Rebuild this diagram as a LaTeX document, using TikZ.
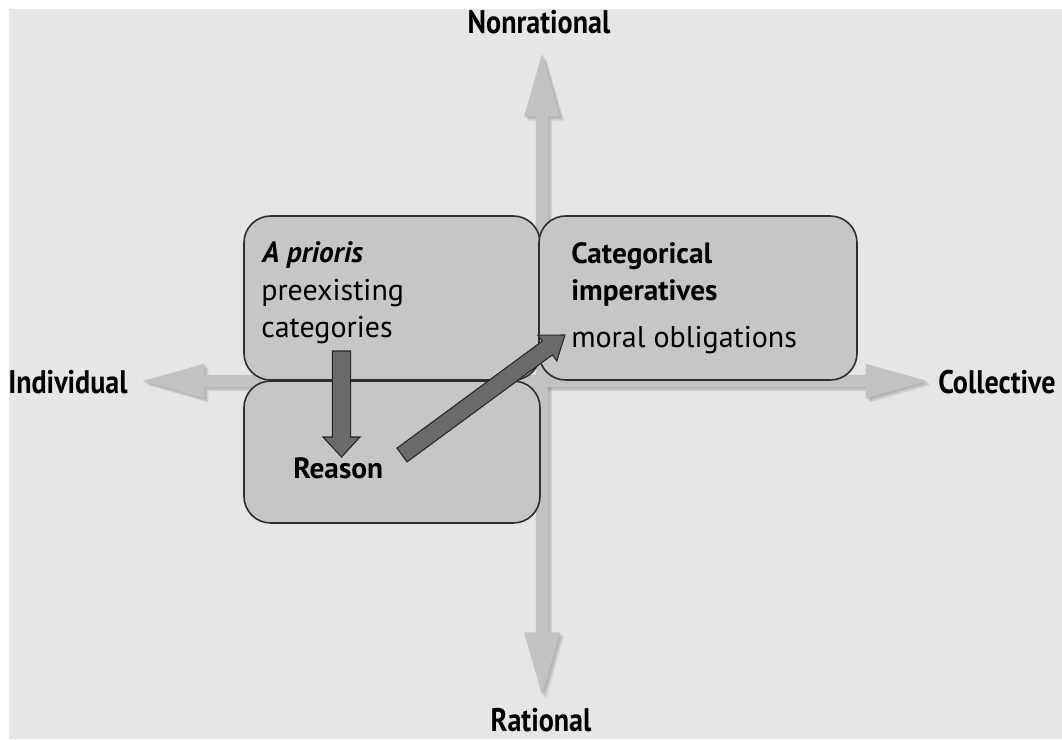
\documentclass[tikz,border=0pt]{standalone}
\usepackage{fontspec}
\setmainfont{PT Sans}
\newfontfamily\condfont{PT Sans}[FakeStretch=0.86]
\usetikzlibrary{calc,fit}

\definecolor{paper}{HTML}{E6E6E6}
\definecolor{axisgray}{HTML}{C2C2C2}
\definecolor{axisshade}{HTML}{808080}
\definecolor{boxgray}{HTML}{C6C6C6}
\definecolor{boxline}{HTML}{2E2E2E}
\definecolor{flowgray}{HTML}{6A6A6A}

% single-headed block arrow: tail, tip, half shaft, half head, head length, style
\newcommand\blockarrow[6]{%
  \path ($(#2)!#5!(#1)$) coordinate (ba-base);
  \draw[#6] ($(#1)!#3!90:(#2)$) -- ($(ba-base)!#3!90:(#2)$)
    -- ($(ba-base)!#4!90:(#2)$) -- (#2) -- ($(ba-base)!#4!-90:(#2)$)
    -- ($(ba-base)!#3!-90:(#2)$) -- ($(#1)!#3!-90:(#2)$) -- cycle;
}
% double-headed block arrow: end A, end B, half shaft, half head, head length, style
\newcommand\axisarrow[6]{%
  \path ($(#1)!#5!(#2)$) coordinate (aa-a) ($(#2)!#5!(#1)$) coordinate (aa-b);
  \path[#6] (#1) -- ($(aa-a)!#4!90:(#2)$) -- ($(aa-a)!#3!90:(#2)$)
    -- ($(aa-b)!#3!90:(#2)$) -- ($(aa-b)!#4!90:(#2)$) -- (#2)
    -- ($(aa-b)!#4!-90:(#2)$) -- ($(aa-b)!#3!-90:(#2)$)
    -- ($(aa-a)!#3!-90:(#2)$) -- ($(aa-a)!#4!-90:(#2)$) -- cycle;
}

\tikzset{
  axislabel/.style={font=\condfont\bfseries\fontsize{24.5}{28}\selectfont, inner sep=0},
  boxhead/.style={font=\bfseries\fontsize{22}{26}\selectfont, inner sep=0, anchor=base west},
  boxtext/.style={font=\fontsize{22.5}{26}\selectfont, inner sep=0, anchor=base west},
  quadrant/.style={draw=boxline, fill=boxgray, line width=1.2pt, rounded corners=20pt, inner sep=0pt},
  axisbody/.style={fill=axisgray},
  axisshadow/.style={fill=axisshade, opacity=0.2},
  flow/.style={fill=flowgray, draw=black!85, line width=0.8pt, line join=miter},
}

\begin{document}
\begin{tikzpicture}[x=0.75pt, y=-0.75pt]
\useasboundingbox (0,0) rectangle (1062,739);
\fill[white] (0,0) rectangle (1062,739);
\fill[paper] (9,9) rectangle (1062,739);

% axis ends
\coordinate (west) at (143,381);
\coordinate (east) at (927,381);
\coordinate (north) at (542,54);
\coordinate (south) at (542,695);

% soft shadow under the axes
\foreach \d in {1.0,2.0,3.0}{
  \begin{scope}[transform canvas={shift={(\d pt,-\d pt)}}]
    \axisarrow{west}{east}{4.6pt}{13pt}{46pt}{axisshadow}
    \axisarrow{north}{south}{4.6pt}{13.5pt}{47pt}{axisshadow}
  \end{scope}
}
\axisarrow{west}{east}{4.6pt}{13pt}{46pt}{axisbody}
\axisarrow{north}{south}{4.6pt}{13.5pt}{47pt}{axisbody}

% axis labels
\node[axislabel, anchor=base] (nonrational) at (539,33) {Nonrational};
\node[axislabel, anchor=base] (rational) at (541,731) {Rational};
\node[axislabel, anchor=base west] (individual) at (8,393) {Individual};
\node[axislabel, anchor=base west] (collective) at (938,393) {Collective};

% quadrant boxes
\node[quadrant, fit={(244,216) (540,380)}] (apriori) {};
\node[quadrant, fit={(244,381) (540,523)}] (reasonbox) {};
\node[quadrant, fit={(539,216) (857,380)}] (imperatives) {};

% box texts
\node[boxhead] (aprioritxt) at (262,262) {\itshape A prioris};
\node[boxtext] (preexisting) at (261,300) {preexisting};
\node[boxtext] (categories) at (261,337) {categories};
\node[boxhead] (reason) at (293,478) {Reason};
\node[boxhead] (categorical) at (571,263) {Categorical};
\node[boxhead] (imperativestxt) at (571,300) {imperatives};
\node[boxtext] (moral) at (571,347) {moral obligations};

% flow arrows
\coordinate (down-tail) at (341.5,351);
\coordinate (down-tip) at (341.5,457);
\coordinate (diag-tail) at (402,455);
\coordinate (diag-tip) at (565,335);
\blockarrow{down-tail}{down-tip}{6.8pt}{13.9pt}{15pt}{flow}
\blockarrow{diag-tail}{diag-tip}{6.4pt}{12pt}{16.5pt}{flow}
\end{tikzpicture}
\end{document}
